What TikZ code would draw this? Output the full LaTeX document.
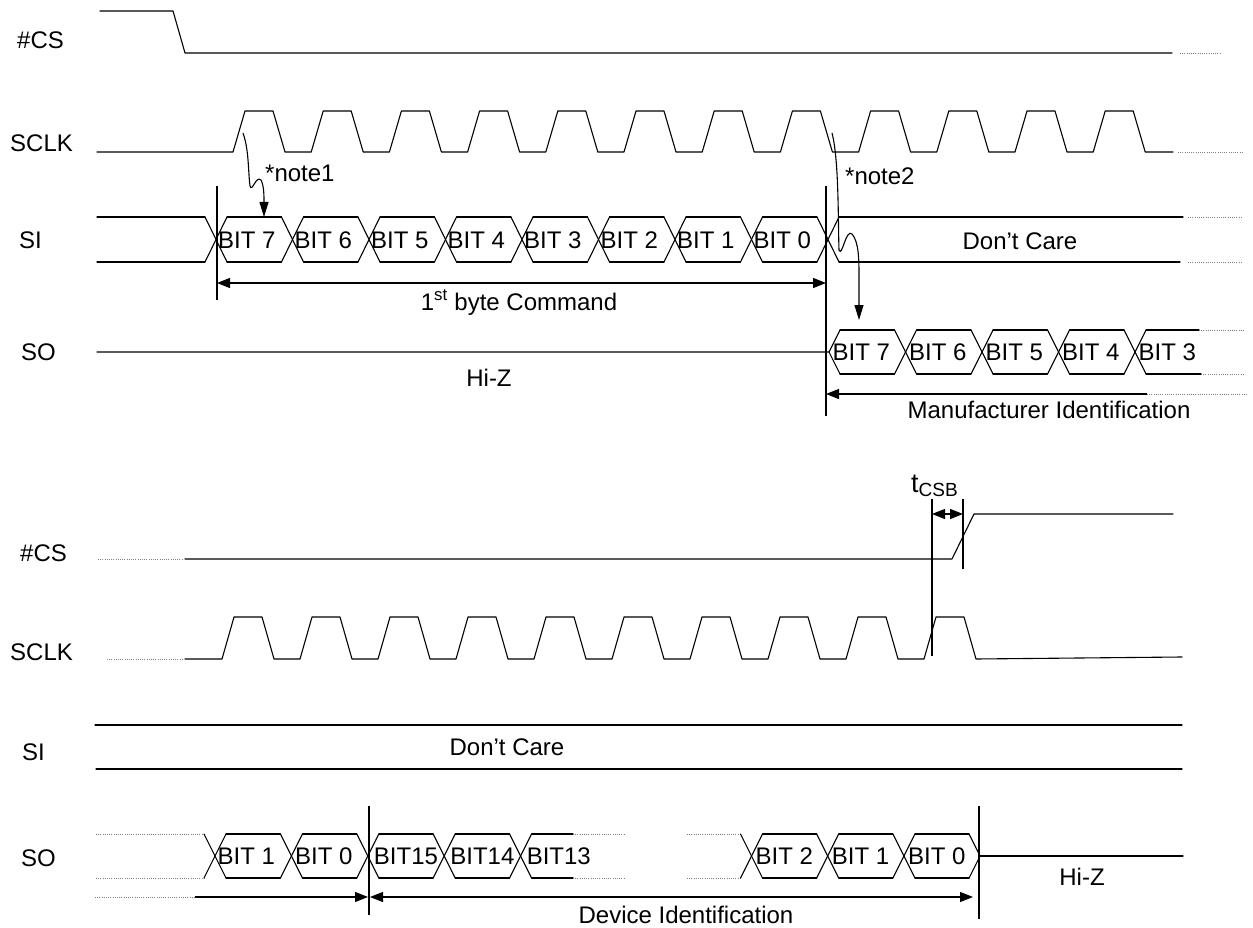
\documentclass[tikz,border=0pt]{standalone}
\usepackage{fontspec}
\setmainfont{Liberation Sans}
\usetikzlibrary{arrows.meta}
\begin{document}
\begin{tikzpicture}[x=1pt,y=-1pt,
  wave/.style={line width=1.1pt,line cap=round,line join=round},
  dotw/.style={gray,line width=0.9pt,dash pattern=on 0.9pt off 1.3pt},
  vline/.style={line width=1.1pt},
  txt/.style={font=\fontsize{24}{29}\selectfont,inner sep=0pt},
  lbl/.style={txt,anchor=base west},
  ctr/.style={txt,anchor=base},
  dimarrow/.style={line width=1.1pt,{Triangle[length=13pt,width=10pt]}-{Triangle[length=13pt,width=10pt]}},
  endarrow/.style={line width=1.1pt,-{Triangle[length=13pt,width=10pt]}},
  notearrow/.style={line width=1.1pt,-{Triangle[length=15pt,width=9pt]}}
]
\useasboundingbox (0,0) rectangle (1253,928);

% ---------------- signal names ----------------
\node[lbl] (csA)   at (17,48.5)  {\#CS};
\node[lbl] (sclkA) at (10,152)   {SCLK};
\node[lbl] (siA)   at (19,248.5) {SI};
\node[lbl] (soA)   at (21,360.5) {SO};
\node[lbl] (csB)   at (20,561.5) {\#CS};
\node[lbl] (sclkB) at (10,660.5) {SCLK};
\node[lbl] (siB)   at (22,760)   {SI};
\node[lbl] (soB)   at (21,866)   {SO};

% ================= TOP PART =================
% #CS
\draw[wave] (100,11) -- (173,11) -- (185,53) -- (1172,53);
\draw[dotw] (1180,53) -- (1220,53);

% SCLK
\draw[wave] (97,152)
  \foreach \k in {0,...,11}{ -- ({233+78.2*\k},152) -- ({233+78.2*\k+12},111)
     -- ({233+78.2*\k+40},111) -- ({233+78.2*\k+52},152) } -- (1173,152);
\draw[dotw] (1178,152) -- (1243,152);

% SI bus
\draw[wave] (97,217) -- (205,217);
\draw[wave] (97,262) -- (205,262);
\foreach \k in {0,...,8}{
  \pgfmathsetmacro\cx{216+76.5*\k}
  \draw[wave] (\cx-11,217) -- (\cx+11,262);
  \draw[wave] (\cx-11,262) -- (\cx+11,217);
}
\foreach \k in {0,...,7}{
  \pgfmathsetmacro\cx{216+76.5*\k}
  \draw[wave] (\cx+11,217) -- (\cx+65.5,217);
  \draw[wave] (\cx+11,262) -- (\cx+65.5,262);
}
\foreach \k/\b in {0/7,1/6,2/5,3/4,4/3,5/2,6/1,7/0}{
  \node[lbl] (siBit\k) at ({216+76.5*\k+2},248.3) {BIT \b};
}
\draw[wave] (839,217) -- (1183,217);
\draw[wave] (839,262) -- (1180,262);
\draw[dotw] (1188,217) -- (1241,217);
\draw[dotw] (1188,262) -- (1241,262);
\node[ctr] (dcA) at (1020,249.6) {Don’t Care};

% SO bus
\draw[wave] (97,352) -- (829,352) -- (840,330);
\draw[wave] (829,352) -- (840,374);
\foreach \k in {1,...,4}{
  \pgfmathsetmacro\cx{829+76.5*\k}
  \draw[wave] (\cx-11,330) -- (\cx+11,374);
  \draw[wave] (\cx-11,374) -- (\cx+11,330);
}
\foreach \k in {0,...,3}{
  \pgfmathsetmacro\cx{829+76.5*\k}
  \draw[wave] (\cx+11,330) -- (\cx+65.5,330);
  \draw[wave] (\cx+11,374) -- (\cx+65.5,374);
}
\draw[wave] (1146,330) -- (1199,330);
\draw[wave] (1146,374) -- (1201,374);
\draw[dotw] (1199,330) -- (1245,330);
\draw[dotw] (1201,374) -- (1245,374);
\foreach \k/\b in {0/7,1/6,2/5,3/4,4/3}{
  \node[lbl] (soBit\k) at ({829+76.5*\k+3.5},360.6) {BIT \b};
}
\node[ctr] (hizA) at (489,386.6) {Hi-Z};

% markers
\coordinate (mA1t) at (217,186); \coordinate (mA1b) at (217,300);
\coordinate (mA2t) at (826,186); \coordinate (mA2b) at (826,416);
\draw[vline] (mA1t) -- (mA1b);
\draw[vline] (mA2t) -- (mA2b);

% 1st byte command
\coordinate (cmdL) at (217,283); \coordinate (cmdR) at (826,283);
\draw[dimarrow] (cmdL) -- (cmdR);
\node[ctr] (cmdT) at (519,310) {1\textsuperscript{st} byte Command};

% manufacturer identification
\coordinate (mfR) at (1147,394); \coordinate (mfL) at (826,394);
\coordinate (mfE) at (1247,394);
\draw[endarrow] (mfR) -- (mfL);
\draw[dotw] (mfR) -- (mfE);
\node[ctr] (mfT) at (1049,418.6) {Manufacturer Identification};

% notes
\node[lbl] (n1) at (265,182) {*note1};
\node[lbl] (n2) at (845,185) {*note2};
\coordinate (n1s) at (243,133); \coordinate (n1e) at (264,217);
\draw[notearrow] (n1s) .. controls (249,150) and (248,170) .. (250,186)
   .. controls (252,193) and (256,175) .. (261,180)
   .. controls (264,186) and (264,195) .. (n1e);
\coordinate (n2s) at (832,133); \coordinate (n2e) at (859,320);
\draw[notearrow] (n2s) .. controls (839,160) and (838,220) .. (839,250)
   .. controls (842,258) and (846,228) .. (852,234)
   .. controls (859,242) and (859,260) .. (859,278) -- (n2e);

% ================= BOTTOM PART =================
% #CS
\draw[dotw] (98,559) -- (183,559);
\draw[wave] (185,559) -- (952,559) -- (974,514) -- (1173,514);

% SCLK
\draw[dotw] (107,659) -- (183,659);
\draw[wave] (185,659)
  \foreach \k in {0,...,9}{ -- ({222+78*\k},659) -- ({222+78*\k+12},617)
     -- ({222+78*\k+40},617) -- ({222+78*\k+52},659) } -- (1182,657);

% tCSB
\coordinate (tL1) at (932,499); \coordinate (tL2) at (932,656);
\coordinate (tR1) at (963,499); \coordinate (tR2) at (963,569);
\draw[vline] (tL1) -- (tL2);
\draw[vline] (tR1) -- (tR2);
\coordinate (tA) at (932,514); \coordinate (tB) at (963,514);
\draw[dimarrow] (tA) -- (tB);
\node[anchor=base west,inner sep=0pt,font=\fontsize{27}{32}\selectfont] (tcsb) at (911,492) {t\textsubscript{\fontsize{19}{22}\selectfont CSB}};

% SI
\draw[wave] (95,725) -- (1182,725);
\draw[wave] (96,769) -- (1182,769);
\node[ctr] (dcB) at (507,755.6) {Don’t Care};

% SO bus
\draw[dotw] (96,834) -- (204,834);
\draw[dotw] (96,878) -- (204,878);
\foreach \k in {0,...,4}{
  \pgfmathsetmacro\cx{215+76.4*\k}
  \draw[wave] (\cx-11,834) -- (\cx+11,878);
  \draw[wave] (\cx-11,878) -- (\cx+11,834);
}
\foreach \k in {0,...,3}{
  \pgfmathsetmacro\cx{215+76.4*\k}
  \draw[wave] (\cx+11,834) -- (\cx+65.4,834);
  \draw[wave] (\cx+11,878) -- (\cx+65.4,878);
}
\draw[wave] (531.6,834) -- (573,834);
\draw[wave] (531.6,878) -- (573,878);
\draw[dotw] (573,834) -- (625,834);
\draw[dotw] (573,878) -- (625,878);
\draw[dotw] (687,834) -- (740.5,834);
\draw[dotw] (687,878) -- (740.5,878);
\foreach \k in {0,...,2}{
  \pgfmathsetmacro\cx{751.5+76.2*\k}
  \draw[wave] (\cx-11,834) -- (\cx+11,878);
  \draw[wave] (\cx-11,878) -- (\cx+11,834);
  \draw[wave] (\cx+11,834) -- (\cx+65.2,834);
  \draw[wave] (\cx+11,878) -- (\cx+65.2,878);
}
\draw[wave] (969.1,834) -- (980.1,856) -- (969.1,878);
\draw[wave] (980.1,856) -- (1183,856);

\node[lbl] (sb1) at (217.5,864.6) {BIT 1};
\node[lbl] (sb2) at (295,864.6) {BIT 0};
\node[ctr] (sb3) at (406,864.6) {BIT15};
\node[ctr] (sb4) at (482.4,864.6) {BIT14};
\node[ctr] (sb5) at (558.8,864.6) {BIT13};
\node[lbl] (sb6) at (755.5,864.6) {BIT 2};
\node[lbl] (sb7) at (831.7,864.6) {BIT 1};
\node[lbl] (sb8) at (907.9,864.6) {BIT 0};
\node[ctr] (hizB) at (1082,885.6) {Hi-Z};

% markers
\coordinate (mB1t) at (369,806); \coordinate (mB1b) at (369,915);
\coordinate (mB2t) at (979,806); \coordinate (mB2b) at (979,919);
\draw[vline] (mB1t) -- (mB1b);
\draw[vline] (mB2t) -- (mB2b);

% device identification
\coordinate (dvD) at (95,897); \coordinate (dvS) at (195,897);
\coordinate (dvM) at (368,897); \coordinate (dvM2) at (370,897);
\coordinate (dvE) at (973,897);
\draw[dotw] (dvD) -- (dvS);
\draw[endarrow] (dvS) -- (dvM);
\draw[dimarrow] (dvM2) -- (dvE);
\node[ctr] (dvT) at (686,923.6) {Device Identification};
\end{tikzpicture}
\end{document}
